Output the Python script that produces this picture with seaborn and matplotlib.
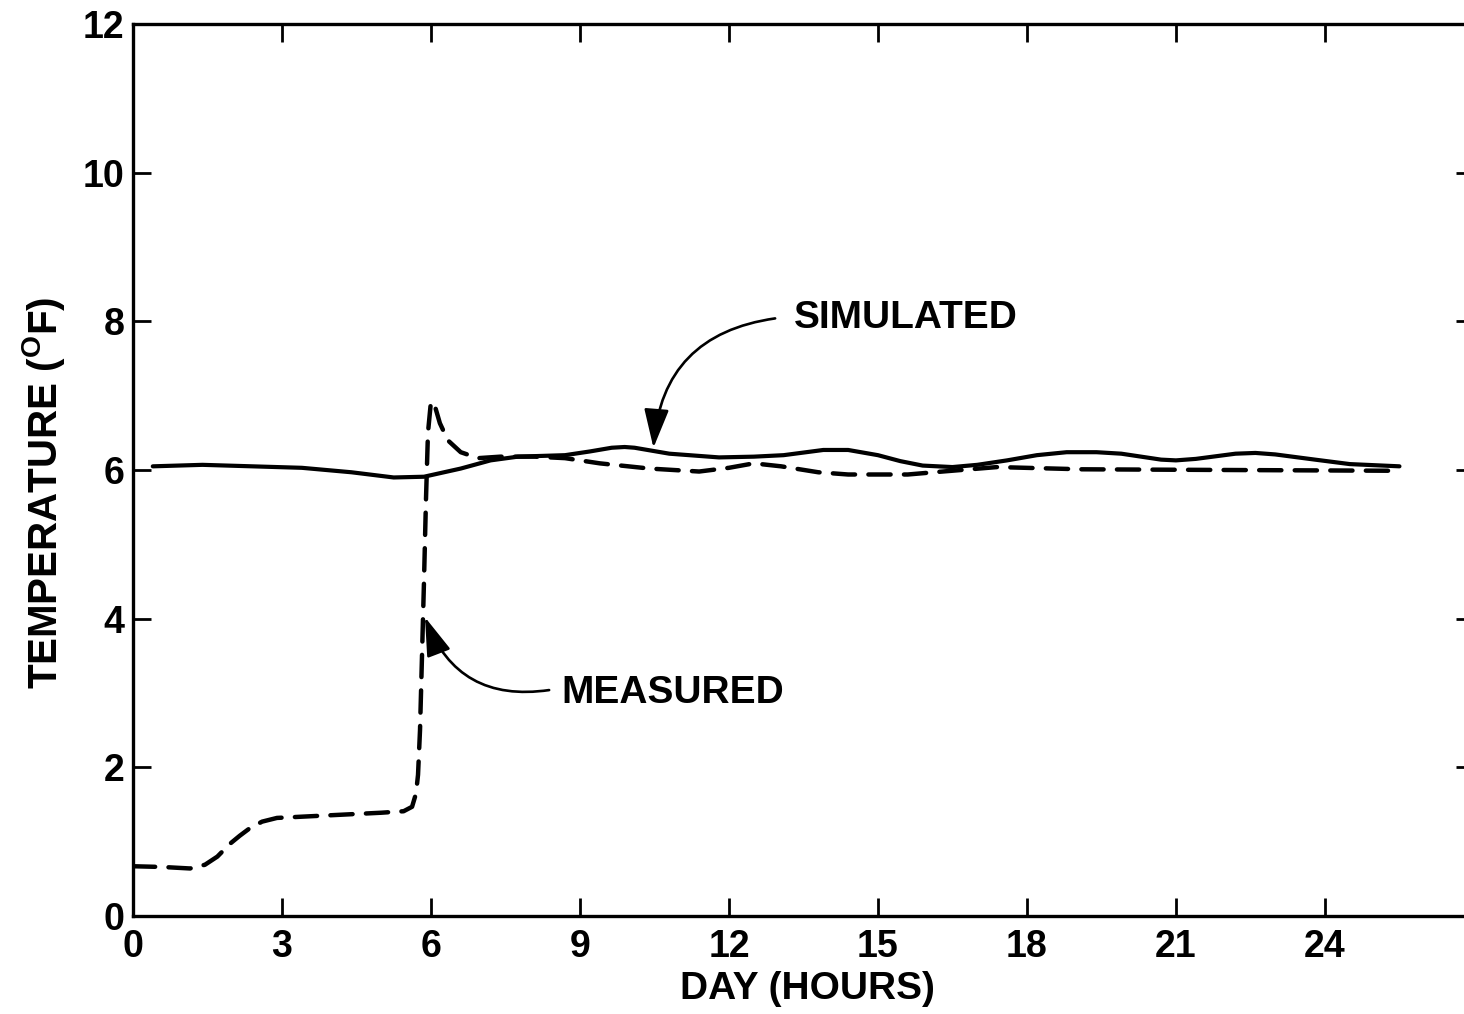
import matplotlib
matplotlib.use("Agg")
import matplotlib.pyplot as plt
import seaborn as sns
import pandas as pd

# -----------------------------
# 1) Values
# -----------------------------
measured_hours = [0.0, 0.6, 1.15, 1.45, 1.7, 1.95, 2.15, 2.35, 2.6, 2.9, 3.5, 4.1, 5.0,
                  5.45, 5.62, 5.7, 5.74, 5.78, 5.82, 5.86, 5.9, 5.94, 6.0, 6.08,
                  6.18, 6.34, 6.6, 6.95, 7.4, 8.1, 8.7, 9.4, 10.4, 11.4, 12.0, 12.5,
                  13.05, 13.8, 14.4, 15.6, 16.3, 17.4, 19.1, 22.2, 25.5]
measured_temp = [0.67, 0.66, 0.64, 0.69, 0.8, 0.97, 1.08, 1.18, 1.27, 1.32, 1.34, 1.36, 1.39,
                 1.41, 1.47, 1.65, 1.9, 2.5, 3.5, 4.5, 5.6, 6.5, 6.92, 6.86,
                 6.63, 6.40, 6.24, 6.16, 6.18, 6.18, 6.16, 6.09, 6.02, 5.98, 6.03, 6.09,
                 6.05, 5.97, 5.94, 5.94, 5.98, 6.04, 6.01, 6.0, 5.99]

simulated_hours = [0.4, 1.4, 3.4, 4.4, 5.25, 5.86, 6.6, 7.2, 7.75, 8.7, 9.2, 9.64, 9.9,
                   10.1, 10.8, 11.8, 12.5, 13.1, 13.9, 14.4, 15.0, 15.45, 15.9, 16.5,
                   17.0, 17.6, 18.2, 18.8, 19.4, 19.9, 20.7, 21.0, 21.4, 22.2, 22.6,
                   23.0, 23.8, 24.5, 25.5]
simulated_temp = [6.05, 6.07, 6.03, 5.97, 5.90, 5.91, 6.02, 6.13, 6.18, 6.2, 6.25, 6.3, 6.31,
                  6.3, 6.22, 6.17, 6.18, 6.2, 6.27, 6.27, 6.2, 6.12, 6.06, 6.04,
                  6.07, 6.13, 6.2, 6.24, 6.24, 6.22, 6.14, 6.13, 6.15, 6.22, 6.23,
                  6.21, 6.14, 6.08, 6.05]

x_ticks = [0, 3, 6, 9, 12, 15, 18, 21, 24]
y_ticks = [0, 2, 4, 6, 8, 10, 12]

measured = pd.DataFrame({"hours": measured_hours, "temp": measured_temp})
simulated = pd.DataFrame({"hours": simulated_hours, "temp": simulated_temp})

# -----------------------------
# 2) Style
# -----------------------------
sns.set_theme(style="ticks")
plt.rcParams["font.family"] = ["Liberation Sans", "DejaVu Sans"]
plt.rcParams["font.weight"] = "bold"
plt.rcParams["axes.labelweight"] = "bold"
plt.rcParams["text.color"] = "black"
plt.rcParams["axes.labelcolor"] = "black"
plt.rcParams["mathtext.fontset"] = "custom"
plt.rcParams["mathtext.rm"] = "Liberation Sans:bold"

fig = plt.figure(figsize=(14.64, 10.14), dpi=100)
ax = fig.add_axes([0.0908, 0.0966, 0.916, 0.8797])

# -----------------------------
# 3) Curves
# -----------------------------
sns.lineplot(data=simulated, x="hours", y="temp", color="black", lw=3.0,
             errorbar=None, ax=ax, solid_capstyle="round", solid_joinstyle="round")
sns.lineplot(data=measured, x="hours", y="temp", color="black", lw=3.2,
             errorbar=None, ax=ax, linestyle=(0, (5.0, 3.0)), dash_capstyle="round",
             dash_joinstyle="round")

ax.set_xlim(0, 27)
ax.set_ylim(0, 12)
ax.set_xticks(x_ticks)
ax.set_yticks(y_ticks)
ax.tick_params(direction="in", length=13, width=2, top=True, right=True,
               labelsize=27, colors="black")
ax.tick_params(axis="x", pad=9)
ax.tick_params(axis="y", pad=6)
for s in ax.spines.values():
    s.set_linewidth(2.4)
    s.set_color("black")

ax.set_xlabel("DAY (HOURS)", fontsize=28)
ax.set_ylabel(r"TEMPERATURE ($^{\mathrm{O}}$F)", fontsize=29)
ax.xaxis.set_label_coords(0.503, -0.062)
ax.yaxis.set_label_coords(-0.049, 0.475)

# -----------------------------
# 4) Labels with arrows
# -----------------------------
arrow = dict(arrowstyle="-|>,head_length=1.0,head_width=0.32", color="black",
             lw=1.9, mutation_scale=24, shrinkA=0, shrinkB=0)
ax.annotate("", xy=(10.48, 6.30), xytext=(12.93, 8.04),
            arrowprops=dict(arrow, connectionstyle="arc3,rad=0.4"))
ax.text(13.31, 8.04, "SIMULATED", fontsize=28, va="center", ha="left")
ax.annotate("", xy=(5.88, 4.02), xytext=(8.38, 3.04),
            arrowprops=dict(arrow, connectionstyle="arc3,rad=-0.4"))
ax.text(8.63, 3.0, "MEASURED", fontsize=28, va="center", ha="left")

fig.savefig("out.png", dpi=100)
plt.close(fig)
